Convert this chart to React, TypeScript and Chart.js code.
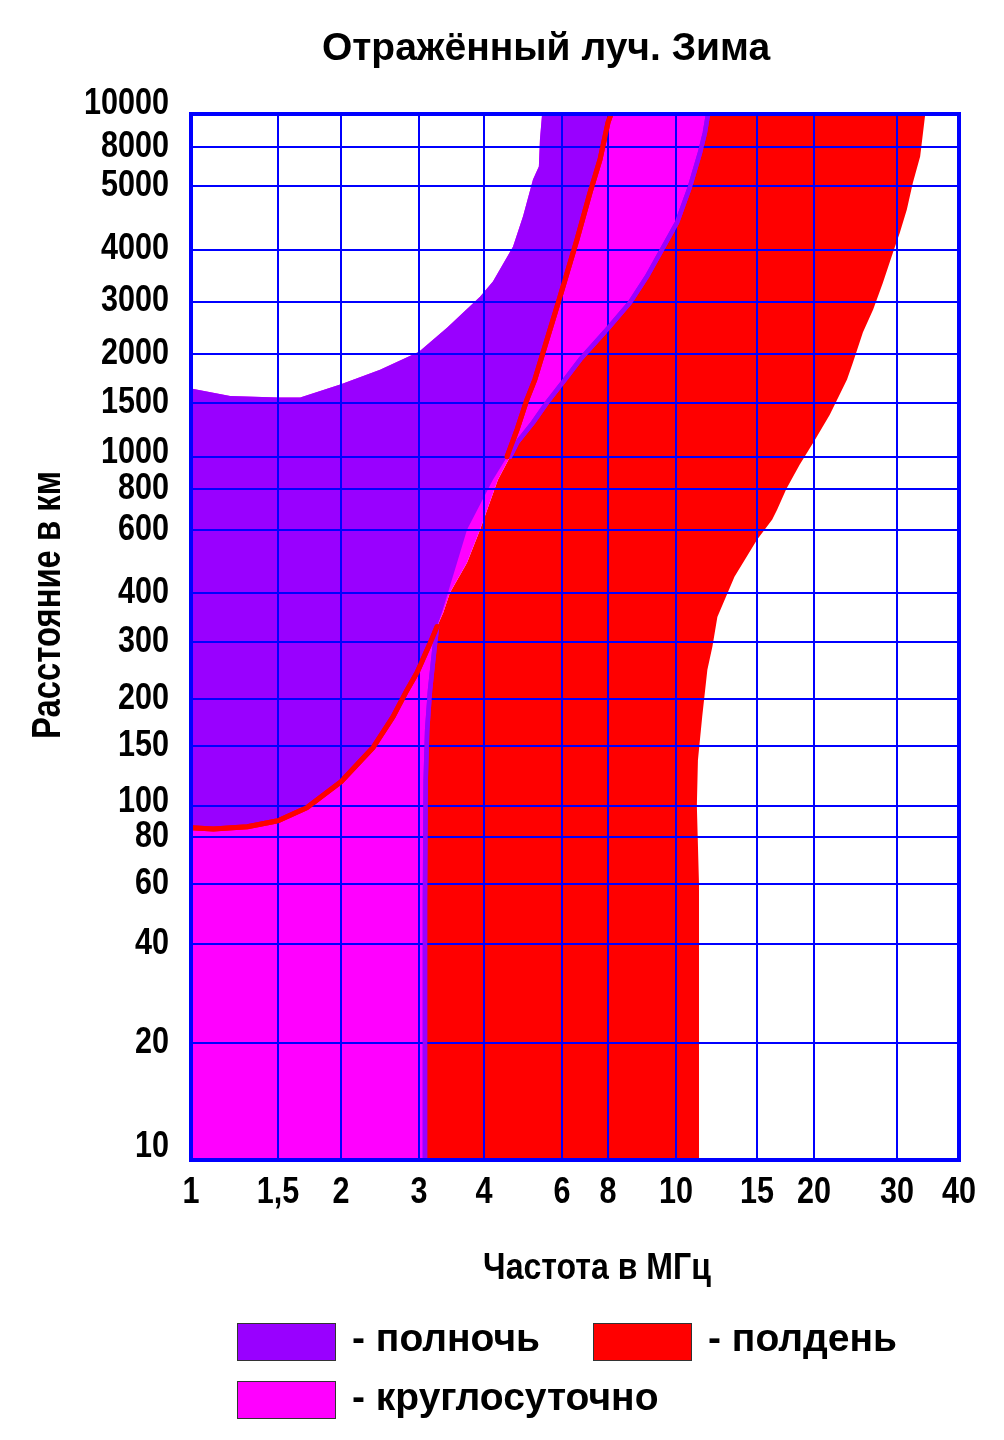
import React, { useEffect, useRef } from 'react';
import { Chart, registerables } from 'chart.js';

Chart.register(...registerables);

// ---------- texts ----------
const TITLE = 'Отражённый луч. Зима';
const X_TITLE = 'Частота в МГц';
const Y_TITLE = 'Расстояние в км';

// ---------- axes of the nomogram (non-uniform scales) ----------
const xTickValues = [1, 1.5, 2, 3, 4, 6, 8, 10, 15, 20, 30, 40];
const xTickLabels = ['1', '1,5', '2', '3', '4', '6', '8', '10', '15', '20', '30', '40'];
// relative place of every tick along the axis (0 = left, 1 = right)
const xTickSpots = [0, 0.1133, 0.1953, 0.2969, 0.3815, 0.4831, 0.543, 0.6315, 0.737, 0.8112, 0.9193, 1];

const yTickValues = [10, 20, 40, 60, 80, 100, 150, 200, 300, 400, 600, 800, 1000, 1500, 2000, 3000, 4000, 5000, 8000, 10000];
const yTickLabels = ['10', '20', '40', '60', '80', '100', '150', '200', '300', '400', '600', '800', '1000', '1500', '2000', '3000', '4000', '5000', '8000', '10000'];
// relative place of every tick along the axis (0 = bottom, 1 = top)
const yTickSpots = [0, 0.1119, 0.2066, 0.264, 0.3089, 0.3386, 0.396, 0.4409, 0.4955, 0.5423, 0.6026, 0.6418, 0.6724, 0.7241, 0.7709, 0.8207, 0.8704, 0.9307, 0.968, 1];

// ---------- boundaries: [frequency MHz, distance km] ----------
// upper edge of the midnight band (left to right)
const nightUpper: number[][] = [
  [1, 1630], [1.2, 1560], [1.5, 1545], [1.66, 1545], [2, 1670], [2.45, 1820], [3, 2030],
  [3.4, 2450], [3.93, 3080], [4.19, 3350], [4.65, 4040], [4.9, 4500], [5.16, 5440],
  [5.32, 6360], [5.35, 8440], [5.41, 10000],
];
// upper frequency limit of the midnight band (bottom to top), split where the stroke is drawn
const nightRightLow: number[][] = [
  [3.08, 10], [3.08, 54], [3.09, 119], [3.11, 165], [3.15, 213], [3.21, 283], [3.25, 328],
];
const nightRightMid: number[][] = [
  [3.34, 356], [3.44, 400], [3.71, 485], [3.93, 600], [4.3, 852],
];
const nightRightHigh: number[][] = [
  [4.58, 1000], [4.75, 1111], [5.16, 1291], [5.55, 1500], [6.11, 1717], [6.72, 1931],
  [7.95, 2412], [8.6, 2977], [9.09, 3445], [9.55, 4000], [10.05, 4400], [10.73, 5000],
  [11.28, 7530], [11.56, 8840], [11.74, 10000],
];
// lower frequency limit of the noon band (bottom to top)
const dayLeftLow: number[][] = [
  [1, 85.4], [1.11, 84.7], [1.3, 86], [1.5, 89.8], [1.71, 98.6], [2, 117.6], [2.36, 148],
  [2.62, 179], [2.82, 213], [2.97, 241], [3.19, 309], [3.25, 328],
];
const dayLeftMid: number[][] = [
  [3.32, 356], [3.41, 400], [3.55, 485], [3.71, 600], [4.19, 852],
];
const dayLeftHigh: number[][] = [
  [4.51, 1000], [4.75, 1225], [5.0, 1527], [5.21, 1717], [5.94, 3084], [6.59, 4144],
  [7.15, 4895], [7.61, 6920], [8, 9450], [8.08, 10000],
];
// upper frequency limit of the noon band (top to bottom)
const dayRight: number[][] = [
  [34.2, 10000], [33.85, 8840], [33.4, 7180], [32.3, 5250], [31.4, 4610], [30.4, 4250],
  [29.4, 3930], [28, 3330], [26.7, 2820], [25.4, 2360], [24.2, 1900], [23.5, 1717],
  [21.6, 1370], [20.1, 1136], [18.6, 946], [17.4, 800], [16.6, 690], [16.2, 644], [15, 562],
  [13.4, 443], [12.3, 347], [12.0, 290], [11.7, 246], [11.4, 179], [11.16, 136], [11.1, 100],
  [11.22, 60], [11.22, 10],
];

const legendLabels = ['- полночь', '- полдень', '- круглосуточно'];

// ---------- styles ----------
const PURPLE = '#9900FF';
const RED = '#FF0000';
const PINK = '#FF00FF';
const BLUE = '#0000FF';
const SANS = '"Liberation Sans", Arial, sans-serif';
const yLabelLift: Record<string, number> = { '10': 13, '100': 4, '1000': 4, '10000': 10 };

function placeOnAxis(v: number, vals: number[], spots: number[]) {
  let i = 0;
  while (i < vals.length - 2 && v > vals[i + 1]) i++;
  const a = Math.log(vals[i]);
  const b = Math.log(vals[i + 1]);
  const t = (Math.log(v) - a) / (b - a);
  return spots[i] + t * (spots[i + 1] - spots[i]);
}
const toPoint = (p: number[]) => ({
  x: placeOnAxis(p[0], xTickValues, xTickSpots),
  y: placeOnAxis(p[1], yTickValues, yTickSpots),
});

const nightRight = [...nightRightLow, ...nightRightMid, ...nightRightHigh];
const dayLeft = [...dayLeftLow, ...dayLeftMid, ...dayLeftHigh];

const dayBand = [...nightRight, ...dayRight];
const nightBand = [[1, 10], ...nightRight, ...[...nightUpper].reverse()];
const nightOnly = [...nightUpper, ...[...dayLeft].reverse()];

function area(label: string, pts: number[][], color: string, order: number) {
  return {
    label, data: pts.map(toPoint), backgroundColor: color, borderWidth: 0,
    fill: 'shape', pointRadius: 0, pointHitRadius: 0, tension: 0, order,
  };
}
function stroke(label: string, pts: number[][], color: string, width: number, order: number) {
  return {
    label, data: pts.map(toPoint), borderColor: color, borderWidth: width, fill: false,
    pointRadius: 0, pointHitRadius: 0, tension: 0, order, borderCapStyle: 'round',
    borderJoinStyle: 'round', isStroke: true,
  };
}

// condensed bold text (the original uses a narrow face)
function narrowText(ctx: CanvasRenderingContext2D, text: string, x: number, y: number,
  size: number, squeeze: number, align: CanvasTextAlign, baseline: CanvasTextBaseline, rot = 0) {
  ctx.save();
  ctx.translate(x, y);
  if (rot) ctx.rotate(rot);
  ctx.scale(squeeze, 1);
  ctx.font = `bold ${size}px ${SANS}`;
  ctx.textAlign = align;
  ctx.textBaseline = baseline;
  ctx.fillStyle = '#000';
  ctx.fillText(text, 0, 0);
  ctx.restore();
}

const overlayPlugin = {
  id: 'nomogramOverlay',
  afterDraw(chart: any) {
    const { ctx, chartArea: a } = chart;
    // boundary strokes above the grid
    ctx.save();
    ctx.beginPath();
    ctx.rect(a.left, a.top, a.right - a.left, a.bottom - a.top);
    ctx.clip();
    const metas = chart.data.datasets
      .map((ds: any, i: number) => ({ ds, meta: chart.getDatasetMeta(i) }))
      .filter((o: any) => o.ds.isStroke)
      .sort((p: any, q: any) => q.ds.order - p.ds.order);
    metas.forEach((o: any) => o.meta.dataset.draw(ctx, a));
    ctx.restore();

    ctx.save();
    // frame
    ctx.strokeStyle = BLUE;
    ctx.lineWidth = 4;
    ctx.strokeRect(a.left, a.top, a.right - a.left, a.bottom - a.top);

    // tick labels, placed by the chart's scales
    const xs = chart.scales.x;
    xs.ticks.forEach((t: any, i: number) => {
      narrowText(ctx, xTickLabels[i], xs.getPixelForValue(t.value), a.bottom + 33, 36, 0.85, 'center', 'middle');
    });
    const ys = chart.scales.y;
    ys.ticks.forEach((t: any, i: number) => {
      const lab = yTickLabels[i];
      narrowText(ctx, lab, a.left - 22, ys.getPixelForValue(t.value) - (yLabelLift[lab] || 0), 36, 0.85, 'right', 'middle');
    });

    // title
    ctx.fillStyle = '#000';
    ctx.textBaseline = 'alphabetic';
    ctx.textAlign = 'center';
    ctx.font = `bold 39px ${SANS}`;
    ctx.fillText(TITLE, 546, 60);
    // axis titles
    narrowText(ctx, X_TITLE, 597, 1279, 37, 0.866, 'center', 'alphabetic');
    narrowText(ctx, Y_TITLE, 60, 605, 40, 0.82, 'center', 'alphabetic', -Math.PI / 2);

    // legend
    const items = [
      { color: PURPLE, text: legendLabels[0], bx: 237, by: 1323, tx: 352, ty: 1351 },
      { color: RED, text: legendLabels[1], bx: 593, by: 1323, tx: 708, ty: 1351 },
      { color: PINK, text: legendLabels[2], bx: 237, by: 1381, tx: 352, ty: 1410 },
    ];
    ctx.textAlign = 'left';
    ctx.textBaseline = 'alphabetic';
    ctx.font = `bold 39px ${SANS}`;
    items.forEach((it) => {
      ctx.fillStyle = it.color;
      ctx.fillRect(it.bx, it.by, 98, 37);
      ctx.strokeStyle = '#333';
      ctx.lineWidth = 1;
      ctx.strokeRect(it.bx + 0.5, it.by + 0.5, 98, 37);
      ctx.fillStyle = '#000';
      ctx.fillText(it.text, it.tx, it.ty);
    });
    ctx.restore();
  },
};

export default function App() {
  const ref = useRef<HTMLCanvasElement>(null);
  useEffect(() => {
    if (!ref.current) return;
    const chart = new Chart(ref.current, {
      type: 'line',
      data: {
        datasets: [
          area('полдень', dayBand, RED, 10),
          area('круглосуточно', nightBand, PINK, 9),
          area('полночь', nightOnly, PURPLE, 8),
          stroke('nightRightLow', nightRightLow, PURPLE, 4.5, 7),
          stroke('nightRightHigh', nightRightHigh, PURPLE, 4.5, 7),
          stroke('dayLeftLow', dayLeftLow, RED, 5, 6),
          stroke('dayLeftHigh', dayLeftHigh, RED, 5, 6),
        ] as any,
      },
      options: {
        responsive: false,
        animation: false,
        devicePixelRatio: 1,
        events: [],
        layout: { autoPadding: false, padding: { left: 0, top: 114, right: 45, bottom: 220 } },
        plugins: { legend: { display: false }, tooltip: { enabled: false }, title: { display: false } },
        scales: {
          x: {
            type: 'linear', min: 0, max: 1,
            afterBuildTicks: (s: any) => { s.ticks = xTickSpots.map((v) => ({ value: v })); },
            afterFit: (s: any) => { s.height = 60; s.paddingLeft = 0; s.paddingRight = 0; },
            grid: { color: BLUE, lineWidth: 2, drawTicks: false, z: 1 },
            border: { display: false },
            ticks: { display: false, autoSkip: false, maxRotation: 0, minRotation: 0 },
          },
          y: {
            type: 'linear', min: 0, max: 1,
            afterBuildTicks: (s: any) => { s.ticks = yTickSpots.map((v) => ({ value: v })); },
            afterFit: (s: any) => { s.width = 191; s.paddingTop = 0; s.paddingBottom = 0; },
            grid: { color: BLUE, lineWidth: 2, drawTicks: false, z: 1 },
            border: { display: false },
            ticks: { display: false, autoSkip: false },
          },
        },
      } as any,
      plugins: [overlayPlugin],
    });
    return () => chart.destroy();
  }, []);
  return (
    <div style={{ position: 'absolute', left: 0, top: 0, width: 1004, height: 1440, background: '#fff' }}>
      <canvas ref={ref} width={1004} height={1440} style={{ display: 'block', width: 1004, height: 1440 }} />
    </div>
  );
}
